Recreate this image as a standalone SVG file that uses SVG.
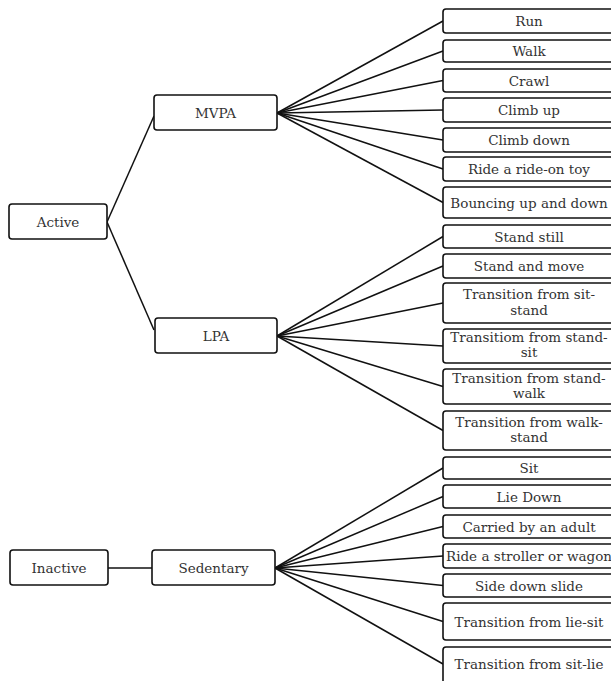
<svg xmlns="http://www.w3.org/2000/svg" width="611" height="681" viewBox="0 0 611 681">
<style>
rect{fill:#fff;stroke:#111;stroke-width:1.6}
text{font-family:"DejaVu Serif","Liberation Serif",serif;font-size:13.5px;fill:#333;text-anchor:middle}
.c line{stroke:#111;stroke-width:1.5}
</style>
<rect x="0" y="0" width="611" height="681" style="stroke:none"/>
<g class="c" id="connectors">
<line x1="107" y1="222" x2="154" y2="116"/>
<line x1="107" y1="222" x2="154" y2="330"/>
<line x1="108" y1="568" x2="152" y2="568"/>
<line x1="277" y1="113" x2="443" y2="21"/>
<line x1="277" y1="113" x2="443" y2="51"/>
<line x1="277" y1="113" x2="443" y2="80.5"/>
<line x1="277" y1="113" x2="443" y2="110"/>
<line x1="277" y1="113" x2="443" y2="140"/>
<line x1="277" y1="113" x2="443" y2="169"/>
<line x1="277" y1="113" x2="443" y2="202.5"/>
<line x1="277" y1="336" x2="443" y2="236.5"/>
<line x1="277" y1="336" x2="443" y2="266"/>
<line x1="277" y1="336" x2="443" y2="303"/>
<line x1="277" y1="336" x2="443" y2="346"/>
<line x1="277" y1="336" x2="443" y2="386.5"/>
<line x1="277" y1="336" x2="443" y2="430.5"/>
<line x1="275" y1="568" x2="443" y2="468"/>
<line x1="275" y1="568" x2="443" y2="496.5"/>
<line x1="275" y1="568" x2="443" y2="526.5"/>
<line x1="275" y1="568" x2="443" y2="556"/>
<line x1="275" y1="568" x2="443" y2="585.5"/>
<line x1="275" y1="568" x2="443" y2="621.5"/>
<line x1="275" y1="568" x2="443" y2="664"/>
</g>
<g id="active"><rect x="9" y="204" width="98" height="35" rx="3"/><text x="58" y="226.5">Active</text></g>
<g id="mvpa"><rect x="154" y="95" width="123" height="35" rx="3"/><text x="215.5" y="117.5">MVPA</text></g>
<g id="lpa"><rect x="155" y="318" width="122" height="35" rx="3"/><text x="216" y="340.5">LPA</text></g>
<g id="inactive"><rect x="10" y="550" width="98" height="35" rx="3"/><text x="59" y="572.5">Inactive</text></g>
<g id="sedentary"><rect x="152" y="550" width="123" height="35" rx="3"/><text x="213.5" y="572.5">Sedentary</text></g>
<g id="run"><rect x="443" y="9" width="172" height="24" rx="3"/><text x="529" y="26">Run</text></g>
<g id="walk"><rect x="443" y="40" width="172" height="22" rx="3"/><text x="529" y="56">Walk</text></g>
<g id="crawl"><rect x="443" y="69" width="172" height="23" rx="3"/><text x="529" y="85.5">Crawl</text></g>
<g id="climbup"><rect x="443" y="98" width="172" height="24" rx="3"/><text x="529" y="115">Climb up</text></g>
<g id="climbdown"><rect x="443" y="128" width="172" height="24" rx="3"/><text x="529" y="145">Climb down</text></g>
<g id="rideon"><rect x="443" y="157" width="172" height="24" rx="3"/><text x="529" y="174">Ride a ride-on toy</text></g>
<g id="bouncing"><rect x="443" y="187" width="172" height="31" rx="3"/><text x="529" y="207.5">Bouncing up and down</text></g>
<g id="standstill"><rect x="443" y="225" width="172" height="23" rx="3"/><text x="529" y="241.5">Stand still</text></g>
<g id="standmove"><rect x="443" y="254" width="172" height="24" rx="3"/><text x="529" y="271">Stand and move</text></g>
<g id="sitstand"><rect x="443" y="283" width="172" height="40" rx="3"/><text x="529" y="299">Transition from sit-</text><text x="529" y="315">stand</text></g>
<g id="standsit"><rect x="443" y="329" width="172" height="34" rx="3"/><text x="529" y="342">Transitiom from stand-</text><text x="529" y="357">sit</text></g>
<g id="standwalk"><rect x="443" y="369" width="172" height="35" rx="3"/><text x="529" y="382.5">Transition from stand-</text><text x="529" y="398">walk</text></g>
<g id="walkstand"><rect x="443" y="411" width="172" height="39" rx="3"/><text x="529" y="426.5">Transition from walk-</text><text x="529" y="442">stand</text></g>
<g id="sit"><rect x="443" y="457" width="172" height="22" rx="3"/><text x="529" y="473">Sit</text></g>
<g id="liedown"><rect x="443" y="485" width="172" height="23" rx="3"/><text x="529" y="501.5">Lie Down</text></g>
<g id="carried"><rect x="443" y="515" width="172" height="23" rx="3"/><text x="529" y="531.5">Carried by an adult</text></g>
<g id="stroller"><rect x="443" y="544" width="172" height="24" rx="3"/><text x="529" y="561">Ride a stroller or wagon</text></g>
<g id="slide"><rect x="443" y="574" width="172" height="23" rx="3"/><text x="529" y="590.5">Side down slide</text></g>
<g id="liesit"><rect x="443" y="603" width="172" height="37" rx="3"/><text x="529" y="626.5">Transition from lie-sit</text></g>
<g id="sitlie"><rect x="443" y="647" width="172" height="40" rx="3"/><text x="529" y="669">Transition from sit-lie</text></g>
</svg>
